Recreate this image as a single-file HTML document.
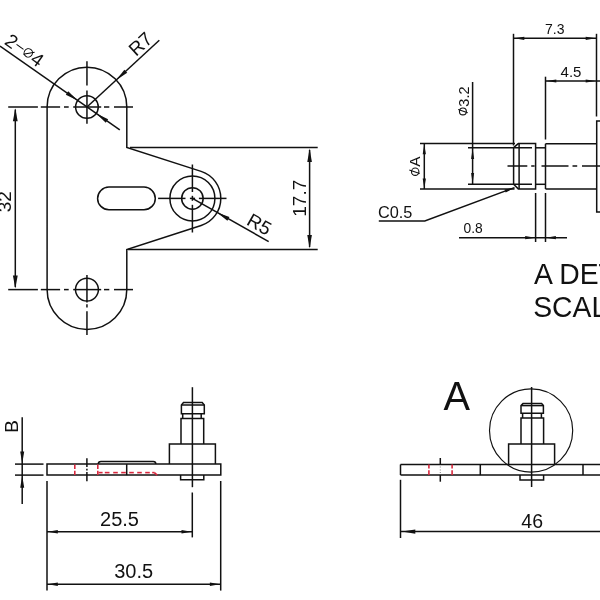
<!DOCTYPE html>
<html><head><meta charset="utf-8"><style>
html,body{margin:0;padding:0;background:#fff;}
body{width:600px;height:600px;overflow:hidden;}
svg{display:block;will-change:transform;}
text{font-family:"Liberation Sans",sans-serif;fill:#111;opacity:0.999;}
</style></head><body>
<svg width="600" height="600" viewBox="0 0 600 600">
<rect width="600" height="600" fill="#fff"/>
<path d="M47.10,289.60 L47.10,107.00 A39.85,39.85 0 0 1 126.80,107.00 L126.80,147.40 L201.12,171.37 A28.4,28.4 0 0 1 201.15,225.42 L126.80,249.50 L126.80,289.60 A39.85,39.85 0 0 1 47.10,289.60 Z" fill="none" stroke="#111" stroke-width="1.5"/>
<circle cx="86.95" cy="107.00" r="11.35" fill="none" stroke="#111" stroke-width="1.5"/>
<circle cx="86.95" cy="289.60" r="11.45" fill="none" stroke="#111" stroke-width="1.5"/>
<rect x="97.6" y="187.1" width="57.7" height="22.6" rx="11.3" fill="none" stroke="#111" stroke-width="1.5"/>
<circle cx="192.40" cy="198.40" r="22.50" fill="none" stroke="#111" stroke-width="1.5"/>
<circle cx="192.40" cy="198.40" r="10.75" fill="none" stroke="#111" stroke-width="1.5"/>
<line x1="8.20" y1="107.00" x2="37.90" y2="107.00" stroke="#111" stroke-width="1.5"/>
<line x1="40.80" y1="107.00" x2="60.10" y2="107.00" stroke="#111" stroke-width="1.5"/>
<line x1="64.00" y1="107.00" x2="68.70" y2="107.00" stroke="#111" stroke-width="1.5"/>
<line x1="73.20" y1="107.00" x2="101.20" y2="107.00" stroke="#111" stroke-width="1.5"/>
<line x1="104.00" y1="107.00" x2="109.30" y2="107.00" stroke="#111" stroke-width="1.5"/>
<line x1="114.00" y1="107.00" x2="133.00" y2="107.00" stroke="#111" stroke-width="1.5"/>
<line x1="86.95" y1="61.20" x2="86.95" y2="85.60" stroke="#111" stroke-width="1.5"/>
<line x1="86.95" y1="90.40" x2="86.95" y2="123.80" stroke="#111" stroke-width="1.5"/>
<line x1="8.20" y1="289.60" x2="37.90" y2="289.60" stroke="#111" stroke-width="1.5"/>
<line x1="40.80" y1="289.60" x2="60.10" y2="289.60" stroke="#111" stroke-width="1.5"/>
<line x1="64.00" y1="289.60" x2="68.70" y2="289.60" stroke="#111" stroke-width="1.5"/>
<line x1="73.20" y1="289.60" x2="101.20" y2="289.60" stroke="#111" stroke-width="1.5"/>
<line x1="104.00" y1="289.60" x2="109.30" y2="289.60" stroke="#111" stroke-width="1.5"/>
<line x1="114.00" y1="289.60" x2="133.00" y2="289.60" stroke="#111" stroke-width="1.5"/>
<line x1="86.95" y1="275.00" x2="86.95" y2="302.60" stroke="#111" stroke-width="1.5"/>
<line x1="86.95" y1="304.30" x2="86.95" y2="307.60" stroke="#111" stroke-width="1.5"/>
<line x1="86.95" y1="311.30" x2="86.95" y2="335.10" stroke="#111" stroke-width="1.5"/>
<line x1="158.10" y1="198.40" x2="185.50" y2="198.40" stroke="#111" stroke-width="1.5"/>
<line x1="189.90" y1="198.40" x2="195.10" y2="198.40" stroke="#111" stroke-width="1.5"/>
<line x1="198.90" y1="198.40" x2="226.50" y2="198.40" stroke="#111" stroke-width="1.5"/>
<line x1="192.40" y1="164.50" x2="192.40" y2="192.00" stroke="#111" stroke-width="1.5"/>
<line x1="192.40" y1="195.80" x2="192.40" y2="200.80" stroke="#111" stroke-width="1.5"/>
<line x1="192.40" y1="204.80" x2="192.40" y2="232.50" stroke="#111" stroke-width="1.5"/>
<line x1="15.30" y1="109.50" x2="15.30" y2="287.10" stroke="#111" stroke-width="1.5"/>
<polygon points="15.30,108.20 17.70,121.20 12.90,121.20" fill="#111"/>
<polygon points="15.30,288.40 12.90,275.40 17.70,275.40" fill="#111"/>
<text x="11.00" y="201.70" font-size="19" text-anchor="middle" transform="rotate(-90.00 11.00 201.70)">32</text>
<line x1="130.00" y1="147.40" x2="317.70" y2="147.40" stroke="#111" stroke-width="1.5"/>
<line x1="128.00" y1="249.50" x2="317.70" y2="249.50" stroke="#111" stroke-width="1.5"/>
<line x1="309.60" y1="149.90" x2="309.60" y2="247.00" stroke="#111" stroke-width="1.5"/>
<polygon points="309.60,148.40 311.90,161.90 307.30,161.90" fill="#111"/>
<polygon points="309.60,248.50 307.30,235.00 311.90,235.00" fill="#111"/>
<text x="305.90" y="198.20" font-size="19" text-anchor="middle" transform="rotate(-90.00 305.90 198.20)">17.7</text>
<line x1="159.30" y1="40.30" x2="86.95" y2="107.00" stroke="#111" stroke-width="1.5"/>
<polygon points="116.25,79.99 124.38,69.63 127.23,72.72" fill="#111"/>
<text x="136.00" y="57.00" font-size="19" text-anchor="start" transform="rotate(-42.70 136.00 57.00)">R7</text>
<line x1="0.00" y1="46.00" x2="119.80" y2="129.80" stroke="#111" stroke-width="1.5"/>
<polygon points="77.65,100.49 65.80,94.75 68.21,91.31" fill="#111"/>
<polygon points="96.25,113.51 108.14,119.18 105.75,122.63" fill="#111"/>
<g transform="translate(3.5 43.5) rotate(35.5)"><text x="0" y="0" font-size="19">2</text><line x1="11.2" y1="-6.8" x2="19.7" y2="-6.8" stroke="#000" stroke-width="1.0"/><circle cx="25.65" cy="-6.76" r="4.2" fill="none" stroke="#000" stroke-width="0.95"/><line x1="22.3" y1="-2.8" x2="30.4" y2="-10.9" stroke="#000" stroke-width="0.95"/><text x="31.6" y="0" font-size="19">4</text></g>
<line x1="192.40" y1="198.40" x2="268.70" y2="241.60" stroke="#111" stroke-width="1.5"/>
<polygon points="217.11,212.39 229.46,216.97 227.39,220.63" fill="#111"/>
<text x="245.50" y="224.00" font-size="19" text-anchor="start" transform="rotate(29.60 245.50 224.00)">R5</text>
<line x1="507.50" y1="166.00" x2="527.30" y2="166.00" stroke="#111" stroke-width="1.5"/>
<line x1="531.20" y1="166.00" x2="534.60" y2="166.00" stroke="#111" stroke-width="1.5"/>
<line x1="541.50" y1="166.00" x2="568.50" y2="166.00" stroke="#111" stroke-width="1.5"/>
<line x1="572.50" y1="166.00" x2="577.20" y2="166.00" stroke="#111" stroke-width="1.5"/>
<line x1="582.00" y1="166.00" x2="600.00" y2="166.00" stroke="#111" stroke-width="1.5"/>
<path d="M513.6,147.6 L518.3,143.6 L535.6,143.6 L535.6,188.9 L518.3,188.9 L513.6,184.3 Z" fill="none" stroke="#111" stroke-width="1.5"/>
<line x1="519.10" y1="143.60" x2="519.10" y2="188.90" stroke="#111" stroke-width="1.5"/>
<line x1="468.00" y1="147.80" x2="532.00" y2="147.80" stroke="#111" stroke-width="1.5"/>
<line x1="468.00" y1="184.30" x2="532.00" y2="184.30" stroke="#111" stroke-width="1.5"/>
<line x1="535.60" y1="147.80" x2="545.50" y2="147.80" stroke="#111" stroke-width="1.5"/>
<line x1="535.60" y1="184.30" x2="545.50" y2="184.30" stroke="#111" stroke-width="1.5"/>
<path d="M545.5,143.7 L596.7,143.7 M545.5,188.9 L596.7,188.9 M545.5,143.7 L545.5,188.9" fill="none" stroke="#111" stroke-width="1.5"/>
<path d="M603,121 L596.7,121 L596.7,212 L603,212" fill="none" stroke="#111" stroke-width="1.5"/>
<line x1="420.00" y1="143.60" x2="515.00" y2="143.60" stroke="#111" stroke-width="1.5"/>
<line x1="420.00" y1="189.00" x2="514.50" y2="189.00" stroke="#111" stroke-width="1.5"/>
<line x1="424.30" y1="143.60" x2="424.30" y2="189.00" stroke="#111" stroke-width="1.5"/>
<polygon points="424.30,144.20 425.90,154.20 422.70,154.20" fill="#111"/>
<polygon points="424.30,188.40 422.70,178.40 425.90,178.40" fill="#111"/>
<text x="420.00" y="166.83" font-size="15.5" text-anchor="start" transform="rotate(-90.00 420.00 166.83)">A</text>
<circle cx="415.20" cy="171.70" r="3.70" fill="none" stroke="#111" stroke-width="1.1"/>
<line x1="409.30" y1="170.00" x2="419.70" y2="173.50" stroke="#111" stroke-width="1.1"/>
<line x1="472.60" y1="82.00" x2="472.60" y2="184.30" stroke="#111" stroke-width="1.5"/>
<polygon points="472.60,148.60 474.10,159.10 471.10,159.10" fill="#111"/>
<polygon points="472.60,183.50 471.10,173.00 474.10,173.00" fill="#111"/>
<text x="468.70" y="106.64" font-size="14.5" text-anchor="start" transform="rotate(-90.00 468.70 106.64)">3.2</text>
<circle cx="462.90" cy="111.40" r="3.45" fill="none" stroke="#111" stroke-width="1.1"/>
<line x1="458.20" y1="109.40" x2="467.70" y2="112.70" stroke="#111" stroke-width="1.1"/>
<line x1="513.50" y1="33.80" x2="513.50" y2="145.50" stroke="#111" stroke-width="1.5"/>
<line x1="596.50" y1="33.80" x2="596.50" y2="116.50" stroke="#111" stroke-width="1.5"/>
<line x1="513.50" y1="38.30" x2="596.50" y2="38.30" stroke="#111" stroke-width="1.5"/>
<polygon points="514.30,38.30 524.30,36.70 524.30,39.90" fill="#111"/>
<polygon points="595.70,38.30 585.70,39.90 585.70,36.70" fill="#111"/>
<text x="554.80" y="33.80" font-size="14" text-anchor="middle">7.3</text>
<line x1="545.50" y1="76.70" x2="545.50" y2="139.50" stroke="#111" stroke-width="1.5"/>
<line x1="545.50" y1="81.00" x2="600.00" y2="81.00" stroke="#111" stroke-width="1.5"/>
<polygon points="546.30,81.00 556.30,79.40 556.30,82.60" fill="#111"/>
<polygon points="595.70,81.00 585.70,82.60 585.70,79.40" fill="#111"/>
<text x="571.00" y="76.70" font-size="15" text-anchor="middle">4.5</text>
<line x1="535.60" y1="193.00" x2="535.60" y2="242.00" stroke="#111" stroke-width="1.5"/>
<line x1="545.50" y1="193.00" x2="545.50" y2="242.00" stroke="#111" stroke-width="1.5"/>
<line x1="459.00" y1="237.70" x2="567.00" y2="237.70" stroke="#111" stroke-width="1.5"/>
<polygon points="535.20,237.70 525.20,239.30 525.20,236.10" fill="#111"/>
<polygon points="545.90,237.70 555.90,236.10 555.90,239.30" fill="#111"/>
<text x="463.50" y="233.30" font-size="13.8" text-anchor="start">0.8</text>
<path d="M378.8,220.9 L424.8,220.9 L514.5,187.6" fill="none" stroke="#111" stroke-width="1.5"/>
<polygon points="514.50,187.60 505.68,192.58 504.57,189.58" fill="#111"/>
<text x="378.00" y="218.40" font-size="16.3" text-anchor="start">C0.5</text>
<text x="0" y="0" font-size="29.5" text-anchor="start" transform="translate(534.00 283.50) rotate(0.00) scale(0.96 1)">A DETAIL</text>
<text x="0" y="0" font-size="29.5" text-anchor="start" transform="translate(533.20 316.60) rotate(0.00) scale(0.96 1)">SCALE 2:1</text>
<path d="M47,464.1 L220.8,464.1 L220.8,475.1 L47,475.1 Z" fill="none" stroke="#111" stroke-width="1.5"/>
<path d="M169.4,464.1 L169.4,443.9 L215.4,443.9 L215.4,464.1" fill="none" stroke="#111" stroke-width="1.5"/>
<path d="M181,443.9 L181,418.5 L203.7,418.5 L203.7,443.9" fill="none" stroke="#111" stroke-width="1.5"/>
<path d="M182.7,418.5 L182.7,413.8 M201.2,413.8 L201.2,418.5" fill="none" stroke="#111" stroke-width="1.5"/>
<path d="M181.4,413.8 L181.4,405 L183.5,402.5 L202.2,402.5 L204.3,405 L204.3,413.8 Z" fill="none" stroke="#111" stroke-width="1.5"/>
<line x1="181.40" y1="405.00" x2="204.30" y2="405.00" stroke="#111" stroke-width="1.5"/>
<path d="M180.6,475.1 L180.6,479.8 L203.8,479.8 L203.8,475.1" fill="none" stroke="#111" stroke-width="1.5"/>
<line x1="192.40" y1="387.20" x2="192.40" y2="487.20" stroke="#111" stroke-width="1.5"/>
<line x1="192.30" y1="492.50" x2="192.30" y2="537.40" stroke="#111" stroke-width="1.5"/>
<path d="M98.3,464.1 Q98.3,461.6 101,461.6 L153.3,461.6 Q155.8,461.6 155.8,464.1" fill="none" stroke="#111" stroke-width="1.5"/>
<line x1="126.70" y1="464.10" x2="126.70" y2="475.10" stroke="#111" stroke-width="1.5"/>
<line x1="74.80" y1="464.60" x2="74.80" y2="469.00" stroke="#d8283e" stroke-width="1.6"/>
<line x1="74.80" y1="470.80" x2="74.80" y2="475.00" stroke="#d8283e" stroke-width="1.6"/>
<line x1="97.80" y1="464.60" x2="97.80" y2="469.00" stroke="#d8283e" stroke-width="1.6"/>
<line x1="97.80" y1="470.80" x2="97.80" y2="475.00" stroke="#d8283e" stroke-width="1.6"/>
<line x1="98.50" y1="472.60" x2="102.60" y2="472.60" stroke="#d8283e" stroke-width="1.6"/>
<line x1="104.80" y1="472.60" x2="109.50" y2="472.60" stroke="#d8283e" stroke-width="1.6"/>
<line x1="113.20" y1="472.60" x2="117.80" y2="472.60" stroke="#d8283e" stroke-width="1.6"/>
<line x1="121.20" y1="472.60" x2="125.80" y2="472.60" stroke="#d8283e" stroke-width="1.6"/>
<line x1="129.20" y1="472.60" x2="133.80" y2="472.60" stroke="#d8283e" stroke-width="1.6"/>
<line x1="137.20" y1="472.60" x2="141.80" y2="472.60" stroke="#d8283e" stroke-width="1.6"/>
<line x1="145.20" y1="472.60" x2="149.80" y2="472.60" stroke="#d8283e" stroke-width="1.6"/>
<line x1="152.20" y1="472.60" x2="154.60" y2="472.60" stroke="#d8283e" stroke-width="1.6"/>
<line x1="154.40" y1="472.60" x2="157.20" y2="475.10" stroke="#d8283e" stroke-width="1.6"/>
<line x1="86.90" y1="458.20" x2="86.90" y2="467.00" stroke="#111" stroke-width="1.5"/>
<line x1="86.90" y1="468.75" x2="86.90" y2="470.50" stroke="#111" stroke-width="1.5"/>
<line x1="86.90" y1="472.00" x2="86.90" y2="481.30" stroke="#111" stroke-width="1.5"/>
<line x1="15.00" y1="464.10" x2="43.50" y2="464.10" stroke="#111" stroke-width="1.5"/>
<line x1="15.00" y1="475.10" x2="43.50" y2="475.10" stroke="#111" stroke-width="1.5"/>
<line x1="22.20" y1="417.20" x2="22.20" y2="504.00" stroke="#111" stroke-width="1.5"/>
<polygon points="22.20,463.50 20.20,451.50 24.20,451.50" fill="#111"/>
<polygon points="22.20,475.70 24.20,487.70 20.20,487.70" fill="#111"/>
<text x="18.50" y="426.30" font-size="19" text-anchor="middle" transform="rotate(-90.00 18.50 426.30)">B</text>
<line x1="47.00" y1="481.00" x2="47.00" y2="590.60" stroke="#111" stroke-width="1.5"/>
<line x1="220.70" y1="481.00" x2="220.70" y2="590.60" stroke="#111" stroke-width="1.5"/>
<line x1="47.00" y1="531.80" x2="192.30" y2="531.80" stroke="#111" stroke-width="1.5"/>
<polygon points="47.80,531.80 57.80,530.10 57.80,533.50" fill="#111"/>
<polygon points="191.50,531.80 181.50,533.50 181.50,530.10" fill="#111"/>
<text x="119.50" y="525.60" font-size="20" text-anchor="middle">25.5</text>
<line x1="47.00" y1="584.20" x2="220.70" y2="584.20" stroke="#111" stroke-width="1.5"/>
<polygon points="47.80,584.20 57.80,582.50 57.80,585.90" fill="#111"/>
<polygon points="219.90,584.20 209.90,585.90 209.90,582.50" fill="#111"/>
<text x="133.70" y="578.10" font-size="20" text-anchor="middle">30.5</text>
<text x="0" y="0" font-size="41" text-anchor="start" transform="translate(443.60 409.60) rotate(0.00) scale(0.97 1)">A</text>
<circle cx="531.10" cy="430.50" r="41.60" fill="none" stroke="#111" stroke-width="1.15"/>
<path d="M400.5,464.5 L603,464.5 M400.5,475.1 L603,475.1 M400.5,464.5 L400.5,475.1" fill="none" stroke="#111" stroke-width="1.5"/>
<line x1="480.30" y1="464.50" x2="480.30" y2="475.10" stroke="#111" stroke-width="1.5"/>
<line x1="583.00" y1="464.50" x2="583.00" y2="475.10" stroke="#111" stroke-width="1.5"/>
<line x1="428.90" y1="464.60" x2="428.90" y2="468.40" stroke="#d8283e" stroke-width="1.6"/>
<line x1="428.90" y1="470.30" x2="428.90" y2="475.00" stroke="#d8283e" stroke-width="1.6"/>
<line x1="452.10" y1="464.60" x2="452.10" y2="468.40" stroke="#d8283e" stroke-width="1.6"/>
<line x1="452.10" y1="470.30" x2="452.10" y2="475.00" stroke="#d8283e" stroke-width="1.6"/>
<line x1="440.30" y1="458.00" x2="440.30" y2="464.60" stroke="#111" stroke-width="1.5"/>
<line x1="440.30" y1="475.00" x2="440.30" y2="481.70" stroke="#111" stroke-width="1.5"/>
<line x1="440.30" y1="466.50" x2="440.30" y2="467.50" stroke="#888" stroke-width="1.0"/>
<line x1="440.30" y1="469.50" x2="440.30" y2="470.50" stroke="#888" stroke-width="1.0"/>
<line x1="440.30" y1="472.00" x2="440.30" y2="473.00" stroke="#888" stroke-width="1.0"/>
<path d="M508.6,464.5 L508.6,444 L554.6,444 L554.6,464.5" fill="none" stroke="#111" stroke-width="1.5"/>
<path d="M521,444 L521,418 L543.6,418 L543.6,444" fill="none" stroke="#111" stroke-width="1.5"/>
<path d="M522.6,418 L522.6,413.2 M541.4,413.2 L541.4,418" fill="none" stroke="#111" stroke-width="1.5"/>
<path d="M521,413.2 L521,405.6 L523,403.6 L541.6,403.6 L543.4,405.6 L543.4,413.2 Z" fill="none" stroke="#111" stroke-width="1.5"/>
<line x1="521.00" y1="405.60" x2="543.40" y2="405.60" stroke="#111" stroke-width="1.5"/>
<path d="M520,475.1 L520,480 L543.6,480 L543.6,475.1" fill="none" stroke="#111" stroke-width="1.5"/>
<line x1="531.60" y1="387.00" x2="531.60" y2="487.00" stroke="#111" stroke-width="1.5"/>
<line x1="400.50" y1="479.80" x2="400.50" y2="538.00" stroke="#111" stroke-width="1.5"/>
<line x1="400.50" y1="531.60" x2="603.00" y2="531.60" stroke="#111" stroke-width="1.5"/>
<polygon points="401.80,531.60 415.30,529.40 415.30,533.80" fill="#111"/>
<text x="532.20" y="527.80" font-size="19.5" text-anchor="middle">46</text>
</svg>
</body></html>
